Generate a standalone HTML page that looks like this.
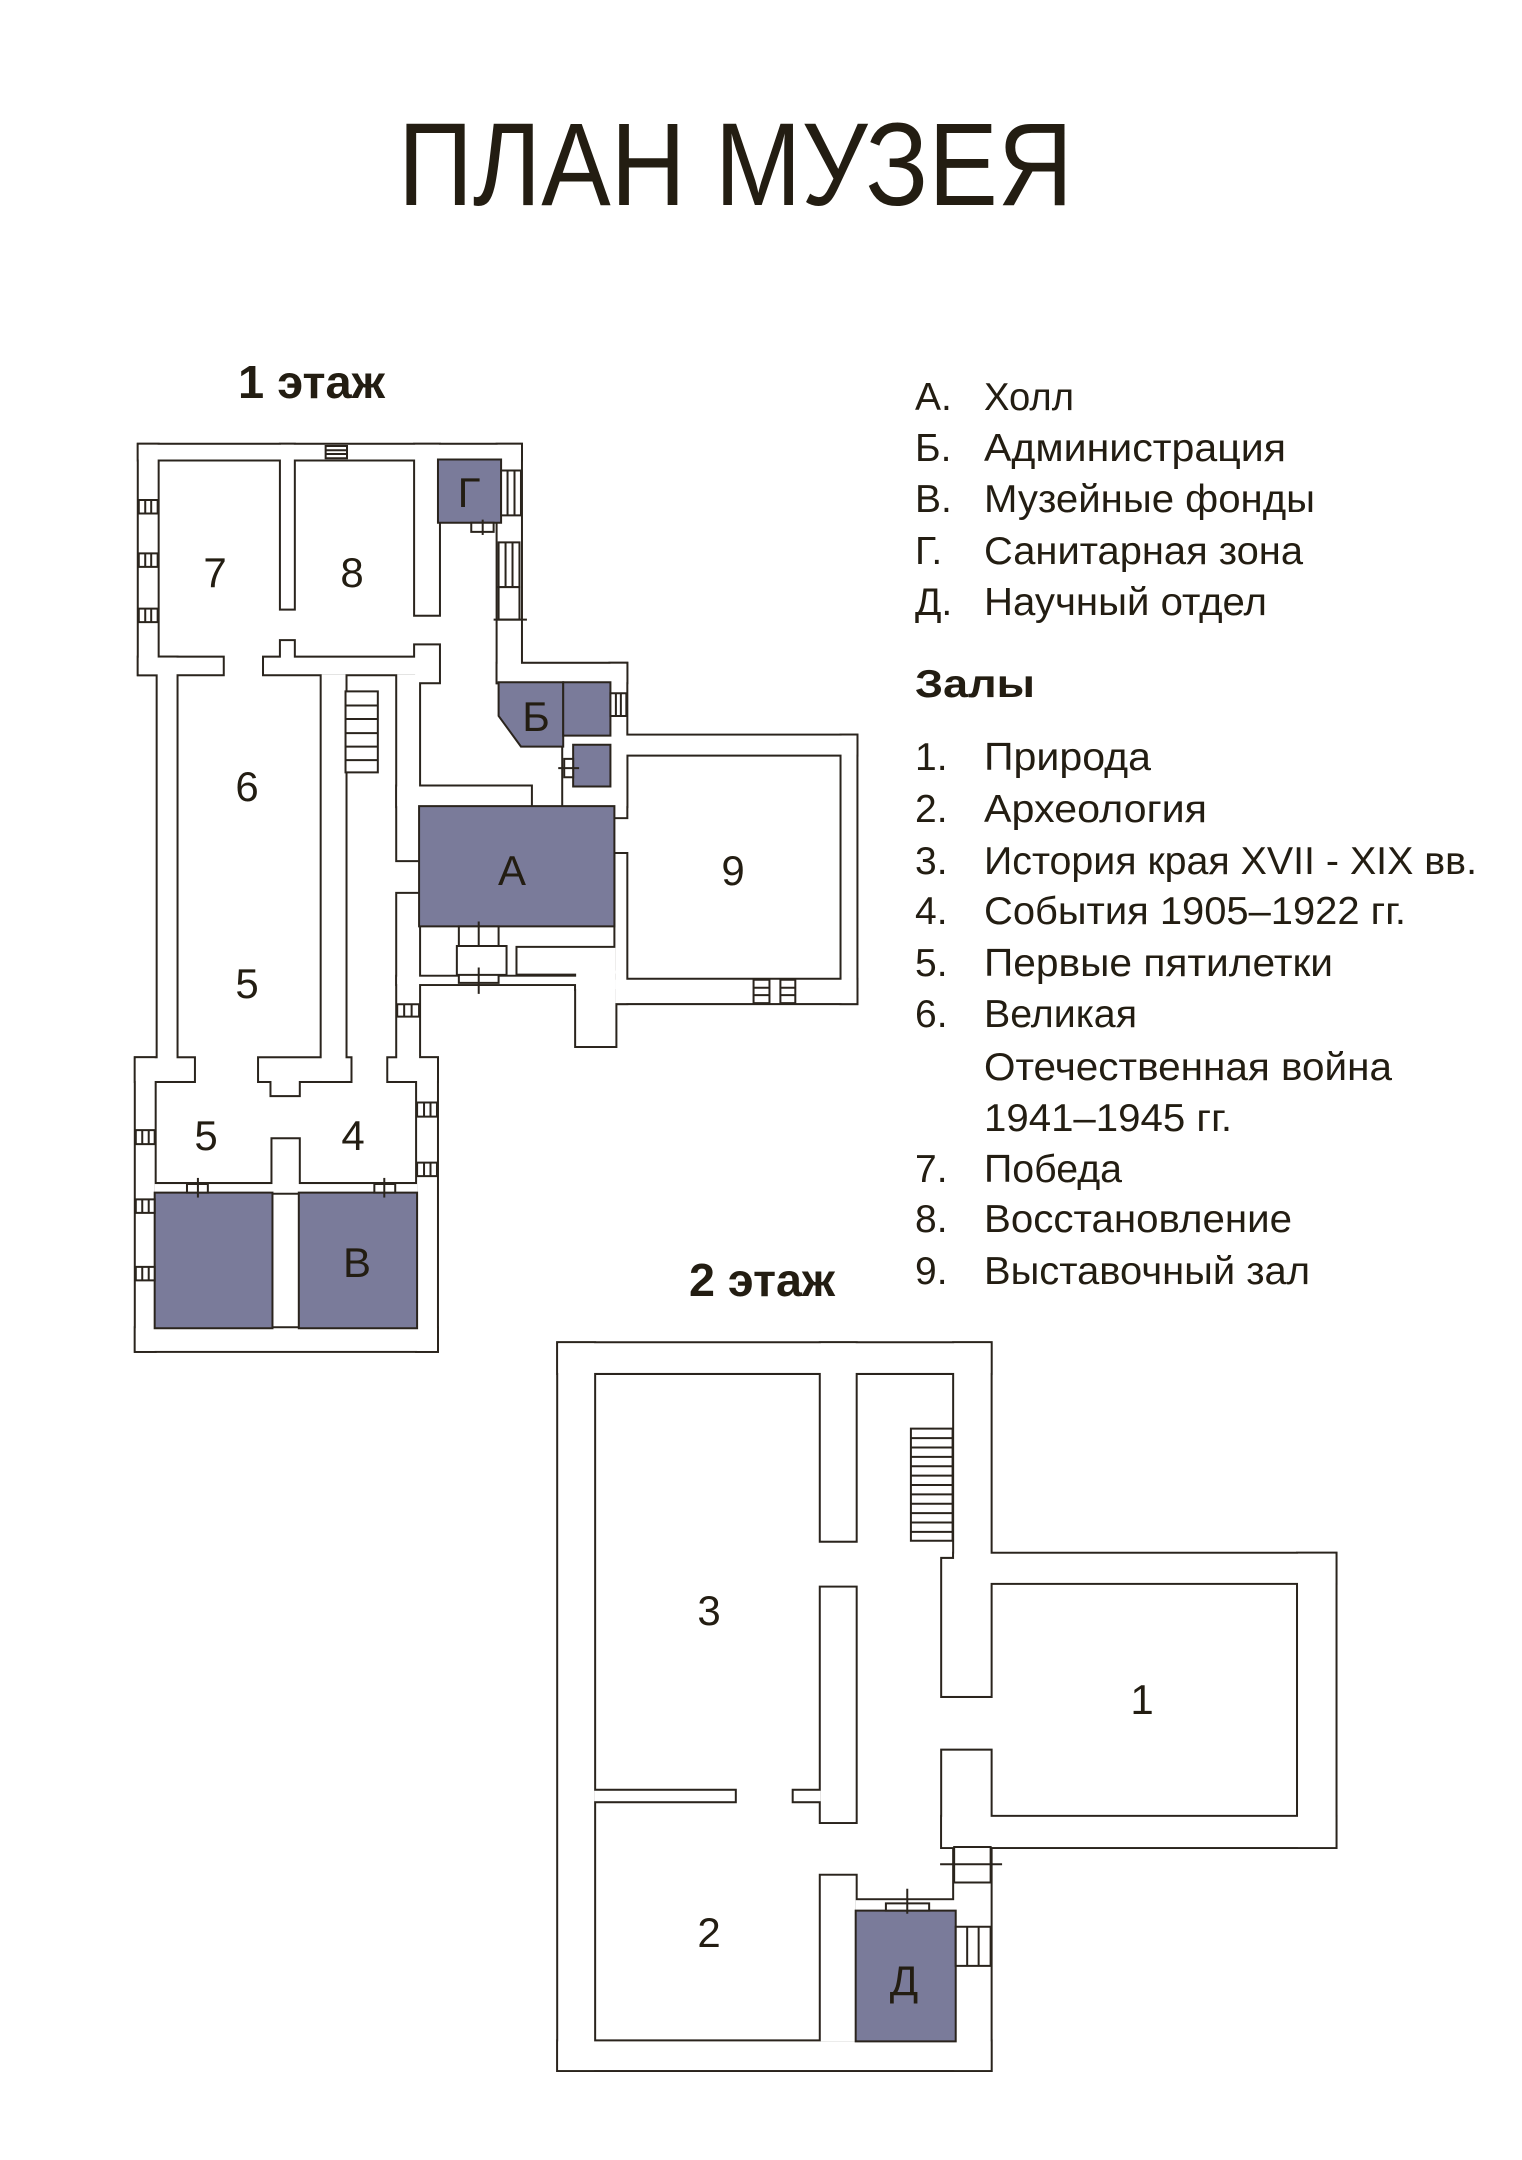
<!DOCTYPE html>
<html><head><meta charset="utf-8">
<style>
html,body{margin:0;padding:0;background:#fff;}
svg{display:block;}
rect,path,line,polygon{vector-effect:non-scaling-stroke;}
text{font-family:"Liberation Sans","DejaVu Sans",sans-serif;fill:#231d12;}
</style></head><body>
<svg width="1522" height="2160" viewBox="0 0 1522 2160" xmlns="http://www.w3.org/2000/svg">
<defs>
<g id="w1">
<rect x="76" y="73" width="769" height="24"/>
<rect x="76" y="73" width="38" height="374"/>
<rect x="76" y="420" width="169" height="27"/>
<rect x="114" y="420" width="38" height="665"/>
<rect x="70" y="1073" width="38" height="477"/>
<rect x="70" y="1073" width="117" height="37"/>
<rect x="70" y="1513" width="606" height="37"/>
<rect x="636" y="1073" width="40" height="477"/>
<rect x="578" y="1073" width="98" height="37"/>
<rect x="318" y="1073" width="184" height="37"/>
<rect x="343" y="1100" width="55" height="33"/>
<rect x="444" y="447" width="48" height="663"/>
<rect x="328" y="420" width="312" height="27"/>
<rect x="362" y="393" width="26" height="32"/>
<rect x="362" y="73" width="26" height="267"/>
<rect x="632" y="73" width="48" height="277"/>
<rect x="632" y="400" width="48" height="60"/>
<rect x="596" y="447" width="44" height="303"/>
<rect x="596" y="805" width="44" height="305"/>
<rect x="596" y="630" width="269" height="32"/>
<rect x="798" y="73" width="47" height="387"/>
<rect x="798" y="430" width="259" height="30"/>
<rect x="1025" y="430" width="32" height="250"/>
<rect x="930" y="547" width="127" height="115"/>
<rect x="1035" y="547" width="485" height="31"/>
<rect x="1490" y="547" width="30" height="436"/>
<rect x="1035" y="945" width="485" height="38"/>
<rect x="1035" y="740" width="22" height="243"/>
<rect x="956" y="945" width="79" height="108"/>
<rect x="838" y="893" width="197" height="42"/>
<rect x="956" y="930" width="79" height="30"/>
<rect x="596" y="940" width="364" height="12"/>
<rect x="108" y="1278" width="528" height="14"/>
<rect x="345" y="1205" width="53" height="87"/>
</g>
<g id="w2">
<rect x="33" y="83" width="830" height="57"/>
<rect x="33" y="83" width="69" height="1395"/>
<rect x="33" y="1423" width="830" height="55"/>
<rect x="793" y="83" width="70" height="414"/>
<rect x="770" y="497" width="93" height="263"/>
<rect x="793" y="487" width="732" height="56"/>
<rect x="1453" y="487" width="72" height="563"/>
<rect x="770" y="992" width="755" height="58"/>
<rect x="770" y="865" width="93" height="185"/>
<rect x="793" y="1050" width="70" height="428"/>
<rect x="537" y="83" width="67" height="379"/>
<rect x="537" y="552" width="67" height="450"/>
<rect x="102" y="942" width="270" height="20"/>
<rect x="485" y="942" width="52" height="20"/>
<rect x="537" y="1105" width="67" height="318"/>
<rect x="604" y="1152" width="192" height="20"/>
</g>
</defs>

<text x="398" y="205" font-size="118" textLength="675" lengthAdjust="spacingAndGlyphs">ПЛАН МУЗЕЯ</text>
<text x="238" y="398" font-size="46" font-weight="bold" textLength="147" lengthAdjust="spacingAndGlyphs">1 этаж</text>
<text x="689" y="1296" font-size="46" font-weight="bold" textLength="146" lengthAdjust="spacingAndGlyphs">2 этаж</text>

<g transform="translate(101,400) scale(0.497,0.6135)" stroke="#2a241d">
<use href="#w1" fill="#fff" stroke="#2a241d" stroke-width="4"/>
<use href="#w1" fill="#fff" stroke="none"/>
<g fill="#7a7b9a" stroke="#2a241d" stroke-width="2">
<rect x="678" y="97" width="127" height="103"/>
<polygon points="800,460 930,460 930,565 845,565 800,515"/>
<rect x="930" y="460" width="95" height="87"/>
<rect x="950" y="562" width="75" height="68"/>
<rect x="640" y="662" width="393" height="196"/>
<rect x="108" y="1292" width="237" height="221"/>
<rect x="398" y="1292" width="238" height="221"/>
</g>
<g fill="#fff" stroke="#2a241d" stroke-width="2">
<rect x="492" y="475" width="65" height="132"/>
<path d="M492 498H557M492 520H557M492 543H557M492 565H557M492 587H557"/>
<rect x="76" y="163" width="38" height="22"/><path d="M89 163V185M101 163V185"/>
<rect x="76" y="250" width="38" height="22"/><path d="M89 250V272M101 250V272"/>
<rect x="76" y="340" width="38" height="22"/><path d="M89 340V362M101 340V362"/>
<rect x="452" y="75" width="43" height="20"/><path d="M452 82H495M452 88H495"/>
<rect x="805" y="115" width="40" height="73"/><path d="M818 115V188M832 115V188"/>
<rect x="800" y="232" width="42" height="73"/><path d="M814 232V305M828 232V305"/>
<rect x="800" y="305" width="42" height="53"/><path d="M790 358H857"/>
<rect x="745" y="200" width="45" height="15"/><path d="M768 195V220"/>
<rect x="1025" y="478" width="32" height="37"/><path d="M1036 478V515M1046 478V515"/>
<rect x="932" y="585" width="18" height="30"/><path d="M920 600H962"/>
<rect x="1313" y="945" width="32" height="38"/><path d="M1313 958H1345M1313 970H1345"/>
<rect x="1367" y="945" width="30" height="38"/><path d="M1367 958H1397M1367 970H1397"/>
<rect x="596" y="985" width="44" height="20"/><path d="M610 985V1005M625 985V1005"/>
<rect x="636" y="1145" width="40" height="23"/><path d="M650 1145V1168M663 1145V1168"/>
<rect x="636" y="1243" width="40" height="22"/><path d="M650 1243V1265M663 1243V1265"/>
<rect x="70" y="1190" width="38" height="23"/><path d="M83 1190V1213M96 1190V1213"/>
<rect x="70" y="1303" width="38" height="22"/><path d="M83 1303V1325M96 1303V1325"/>
<rect x="70" y="1413" width="38" height="22"/><path d="M83 1413V1435M96 1413V1435"/>
<rect x="173" y="1278" width="42" height="14"/><path d="M195 1268V1300"/>
<rect x="550" y="1278" width="42" height="14"/><path d="M570 1268V1300"/>
<rect x="720" y="858" width="80" height="92"/>
<rect x="716" y="890" width="100" height="47"/>
<path d="M760 850V890M760 925V968"/>
</g>
</g>

<g transform="translate(541,1300) scale(0.521)">
<use href="#w2" fill="#fff" stroke="#2a241d" stroke-width="4"/>
<use href="#w2" fill="#fff" stroke="none"/>
<rect x="604" y="1172" width="192" height="251" fill="#7a7b9a" stroke="#2a241d" stroke-width="2"/>
<g fill="#fff" stroke="#2a241d" stroke-width="2">
<rect x="710" y="247" width="80" height="215"/>
<path d="M710 265H790M710 283H790M710 301H790M710 319H790M710 337H790M710 355H790M710 373H790M710 391H790M710 409H790M710 427H790M710 445H790"/>
<rect x="793" y="1050" width="70" height="68"/><path d="M766 1083H885"/>
<rect x="796" y="1203" width="67" height="75"/><path d="M818 1203V1278M840 1203V1278"/>
<rect x="662" y="1158" width="83" height="14"/><path d="M703 1130V1178"/>
</g>
</g>

<g font-size="42" text-anchor="middle">
<text x="215" y="587">7</text>
<text x="352" y="587">8</text>
<text x="469" y="507">Г</text>
<text x="536" y="731">Б</text>
<text x="247" y="801">6</text>
<text x="512" y="885">А</text>
<text x="733" y="885">9</text>
<text x="247" y="998">5</text>
<text x="206" y="1150">5</text>
<text x="353" y="1150">4</text>
<text x="357" y="1277">В</text>
<text x="709" y="1625">3</text>
<text x="1142" y="1714">1</text>
<text x="709" y="1947">2</text>
<text x="904" y="1995">Д</text>
</g>

<g font-size="39">
<text x="915" y="410">А.</text><text x="984" y="410" textLength="90" lengthAdjust="spacingAndGlyphs">Холл</text>
<text x="915" y="461">Б.</text><text x="984" y="461" textLength="302" lengthAdjust="spacingAndGlyphs">Администрация</text>
<text x="915" y="512">В.</text><text x="984" y="512" textLength="331" lengthAdjust="spacingAndGlyphs">Музейные фонды</text>
<text x="915" y="564">Г.</text><text x="984" y="564" textLength="319" lengthAdjust="spacingAndGlyphs">Санитарная зона</text>
<text x="915" y="615">Д.</text><text x="984" y="615" textLength="283" lengthAdjust="spacingAndGlyphs">Научный отдел</text>
<text x="915" y="697" font-weight="bold" textLength="120" lengthAdjust="spacingAndGlyphs">Залы</text>
<text x="915" y="770">1.</text><text x="984" y="770" textLength="167" lengthAdjust="spacingAndGlyphs">Природа</text>
<text x="915" y="822">2.</text><text x="984" y="822" textLength="223" lengthAdjust="spacingAndGlyphs">Археология</text>
<text x="915" y="874">3.</text><text x="984" y="874" textLength="493" lengthAdjust="spacingAndGlyphs">История края XVII - XIX вв.</text>
<text x="915" y="924">4.</text><text x="984" y="924" textLength="422" lengthAdjust="spacingAndGlyphs">События 1905–1922 гг.</text>
<text x="915" y="976">5.</text><text x="984" y="976" textLength="349" lengthAdjust="spacingAndGlyphs">Первые пятилетки</text>
<text x="915" y="1027">6.</text><text x="984" y="1027" textLength="153" lengthAdjust="spacingAndGlyphs">Великая</text>
<text x="984" y="1080" textLength="408" lengthAdjust="spacingAndGlyphs">Отечественная война</text>
<text x="984" y="1131" textLength="248" lengthAdjust="spacingAndGlyphs">1941–1945 гг.</text>
<text x="915" y="1182">7.</text><text x="984" y="1182" textLength="138" lengthAdjust="spacingAndGlyphs">Победа</text>
<text x="915" y="1232">8.</text><text x="984" y="1232" textLength="308" lengthAdjust="spacingAndGlyphs">Восстановление</text>
<text x="915" y="1284">9.</text><text x="984" y="1284" textLength="326" lengthAdjust="spacingAndGlyphs">Выставочный зал</text>
</g>
</svg>
</body></html>
